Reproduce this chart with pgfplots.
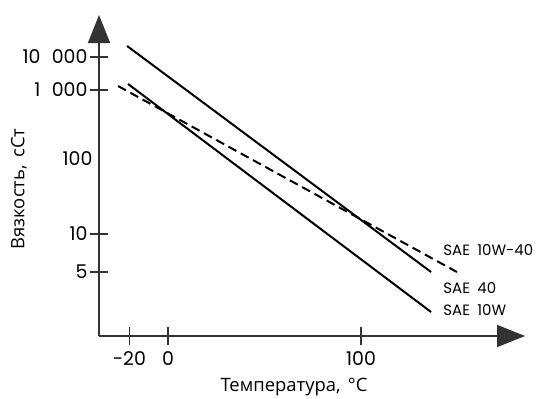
\documentclass[border=0pt]{standalone}
\usepackage{fontspec}
\setmainfont{Poppins}
\newfontfamily\cyr{Open Sans}
\usepackage{pgfplots}
\pgfplotsset{compat=1.18}
\usetikzlibrary{arrows.meta}
\begin{document}
\begin{tikzpicture}
\begin{axis}[
  x=1.93bp, y=1bp,
  xmin=-35.75, xmax=185, ymin=0, ymax=321,
  axis x line=bottom, axis y line=left,
  axis line style={line width=1.6bp, draw=black!80, -{Triangle[width=22bp,length=28bp]}},
  tick align=center, major tick length=18bp,
  tick style={line width=1.2bp, black!80},
  xtick={-20,0,100}, xticklabels={-20,0,100},
  ytick={279,246,102,64}, yticklabels={10\hspace{0.6em}000,1\hspace{0.6em}000,10,5},
  extra y ticks={177}, extra y tick labels={100},
  extra y tick style={major tick length=0bp, yticklabel style={xshift=-4bp}},
  /pgf/number format/assume math mode=true,
  ticklabel style={font=\fontsize{19}{21}\selectfont},
  yticklabel style={xshift=1bp},
  xticklabel style={yshift=-3bp},
  clip=false,
]
\addplot[line width=2bp, black] coordinates {(-21.2,290) (136.3,64)};
\addplot[line width=2bp, black] coordinates {(-20.7,252) (136.3,24)};
\addplot[line width=2bp, black, dash pattern=on 9bp off 5bp] coordinates {(-25.9,250) (149.7,64)};
\node[anchor=west, font=\fontsize{15}{17}\selectfont] at (axis cs:140.9,86) {SAE\hspace{0.5em}10W-40};
\node[anchor=west, font=\fontsize{15}{17}\selectfont] at (axis cs:140.9,48) {SAE\hspace{0.5em}40};
\node[anchor=west, font=\fontsize{15}{17}\selectfont] at (axis cs:140.9,26) {SAE\hspace{0.5em}10W};
\node[font=\cyr\fontsize{18.5}{20}\selectfont] at (axis cs:65.3,-51) {Температура,\hspace{0.4em}°C};
\node[rotate=90, font=\cyr\fontsize{18.5}{20}\selectfont] at (axis cs:-77.2,147) {Вязкость,\hspace{0.4em}сСт};
\coordinate (bl) at (axis cs:-87.05,-63);
\coordinate (tr) at (axis cs:190.67,336);
\end{axis}
\pgfresetboundingbox
\path[use as bounding box] (bl) rectangle (tr);
\end{tikzpicture}
\end{document}
